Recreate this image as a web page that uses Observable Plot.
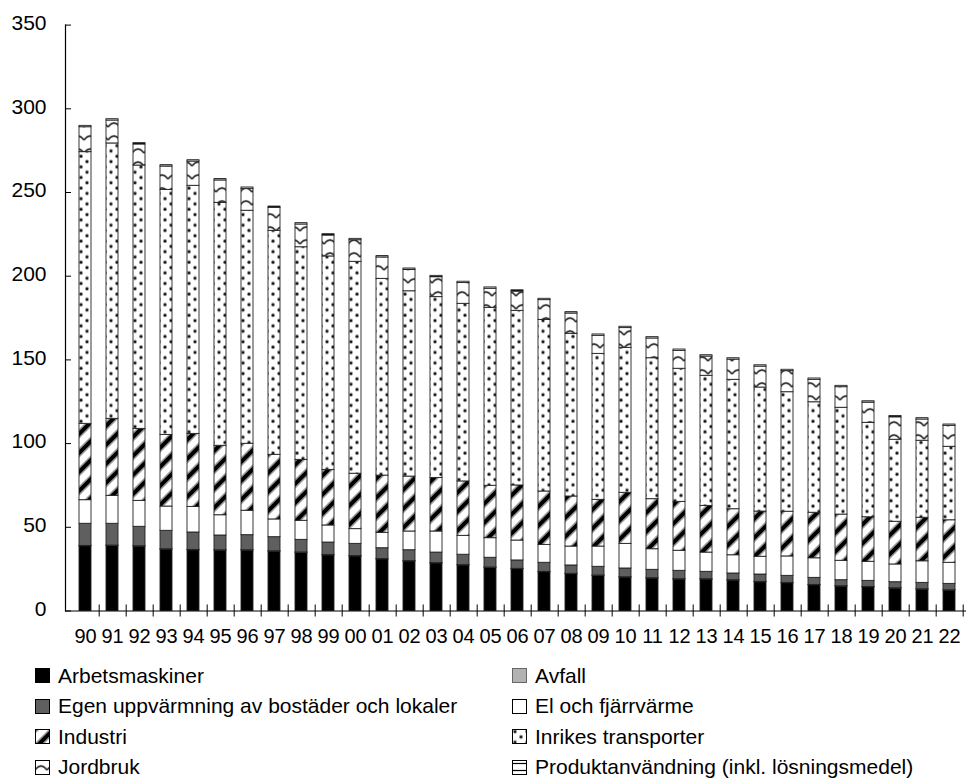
<!DOCTYPE html>
<html>
<head>
<meta charset="utf-8">
<script src="https://cdn.jsdelivr.net/npm/d3@7"></script>
<script src="https://cdn.jsdelivr.net/npm/@observablehq/plot@0.6"></script>
<style>
  html, body { margin: 0; padding: 0; background: #fff; }
  body { width: 966px; height: 780px; position: relative; font-family: "Liberation Sans", Arial, sans-serif; }
  #chart { position: absolute; left: 0; top: 0; }
  .leg { position: absolute; display: flex; align-items: center; font-size: 21px; color: #000; white-space: nowrap; }
  .leg svg { margin-right: 8px; }
</style>
</head>
<body>
<svg width="0" height="0" style="position:absolute">
  <defs>
    <pattern id="pInd" patternUnits="userSpaceOnUse" width="19" height="19">
      <rect width="19" height="19" fill="#fff"/>
      <path d="M-3,3 L3,-3 M0,19 L19,0 M16,22 L22,16" stroke="#999" stroke-width="7"/>
      <path d="M-3,3 L3,-3 M0,19 L19,0 M16,22 L22,16" stroke="#000" stroke-width="4"/>
    </pattern>
    <pattern id="pInr" patternUnits="userSpaceOnUse" width="12" height="10.6">
      <rect width="12" height="10.6" fill="#fff"/>
      <circle cx="3" cy="2.6" r="2" fill="#999"/><circle cx="3" cy="2.6" r="1.2" fill="#111"/>
      <circle cx="9" cy="7.9" r="2" fill="#999"/><circle cx="9" cy="7.9" r="1.2" fill="#111"/>
    </pattern>
    <pattern id="pJor" patternUnits="userSpaceOnUse" width="12" height="13">
      <rect width="12" height="13" fill="#fff"/>
      <path d="M0,10 Q6,2 12,10" fill="none" stroke="#aaa" stroke-width="2.6"/>
      <path d="M0,10 Q6,2 12,10" fill="none" stroke="#333" stroke-width="1.3"/>
    </pattern>
    <pattern id="pPro" patternUnits="userSpaceOnUse" width="7" height="7">
      <rect width="7" height="7" fill="#fff"/>
      <path d="M0,3.5 H7" stroke="#000" stroke-width="1.2"/>
    </pattern>
  </defs>
</svg>
<div id="chart"></div>
<div id="legend"></div>
<script>
// Year tick labels (1990–2022)
const years = ["90","91","92","93","94","95","96","97","98","99","00","01","02","03","04","05","06","07","08","09","10","11","12","13","14","15","16","17","18","19","20","21","22"];

const sectors = [
  "Arbetsmaskiner",
  "Avfall",
  "Egen uppvärmning av bostäder och lokaler",
  "El och fjärrvärme",
  "Industri",
  "Inrikes transporter",
  "Jordbruk",
  "Produktanvändning (inkl. lösningsmedel)"
];

const arbetsmaskiner = [38.7,38.9,38.5,36.7,36.3,36.1,36.1,35.5,34.8,33.2,32.6,30.8,29.6,28.4,27.2,25.8,25.0,23.2,22.0,21.0,20.0,19.4,18.8,18.8,18.2,17.2,16.6,15.4,14.6,14.2,13.4,12.8,12.2];
const avfall = [0.2,0.2,0.2,0.2,0.2,0.2,0.2,0.2,0.2,0.2,0.2,0.2,0.2,0.2,0.2,0.2,0.2,0.2,0.2,0.2,0.2,0.2,0.2,0.2,0.2,0.2,0.2,0.2,0.2,0.2,0.2,0.2,0.2];
const egenUppvarmning = [13.2,13.0,11.6,11.0,10.4,8.8,9.0,8.4,7.5,7.5,7.3,6.5,6.5,6.3,6.2,5.8,5.0,5.4,5.0,5.2,5.2,5.0,5.0,4.4,4.0,4.4,4.2,4.2,3.6,3.6,3.6,3.8,3.8];
const elFjarrvarme = [14.1,16.7,15.5,14.5,15.3,12.1,14.6,10.6,11.4,10.2,8.8,9.2,11.2,12.6,11.3,11.7,11.9,10.7,11.3,12.1,14.7,12.3,12.0,11.5,10.9,10.6,11.6,11.7,11.6,11.4,10.6,12.9,12.6];
const industri = [45.6,46.0,43.0,42.8,43.6,41.5,40.0,38.6,36.4,33.2,33.1,34.2,32.8,32.0,32.5,31.3,32.9,31.9,29.9,27.9,30.5,29.9,29.2,27.9,27.5,27.0,26.7,27.2,27.6,26.6,25.5,26.0,25.4];
const inrikesTransporter = [162.3,164.5,157.3,146.4,148.2,145.1,139.2,133.8,127.0,127.5,126.6,117.5,110.7,108.0,106.1,106.3,104.3,102.5,97.2,87.2,86.6,84.2,79.5,77.7,77.3,74.1,71.4,66.0,63.8,56.4,49.0,46.0,43.9];
const jordbruk = [14.9,13.7,12.6,13.9,14.5,13.4,13.1,13.7,13.6,12.5,12.9,12.8,12.8,11.9,12.4,11.4,11.5,11.8,12.1,10.8,11.8,11.8,10.7,11.5,12.1,12.5,12.6,13.4,12.3,12.1,13.4,12.7,12.5];
const produktanvandning = [0.8,0.8,0.8,0.8,0.8,0.8,0.8,0.8,0.8,0.8,0.8,0.8,0.8,0.8,0.8,0.8,0.8,0.8,0.8,0.8,0.8,0.8,0.8,0.8,0.8,0.8,0.8,0.8,0.8,0.8,0.8,0.8,0.8];

const yTicks = [0,50,100,150,200,250,300,350];

const seriesValues = [arbetsmaskiner, avfall, egenUppvarmning, elFjarrvarme, industri, inrikesTransporter, jordbruk, produktanvandning];
const fills = ["#000000", "#b2b2b2", "#5f5f5f", "#ffffff", "url(#pInd)", "url(#pInr)", "url(#pJor)", "url(#pPro)"];

const data = [];
seriesValues.forEach((vals, i) => vals.forEach((v, j) => data.push({year: years[j], sector: sectors[i], value: v})));

const W = 966, H = 650;
const xLeft = 65, xRight = 968;
const step = (xRight - xLeft) / years.length;

const chart = Plot.plot({
  width: W,
  height: H,
  marginLeft: 65,
  marginRight: 0,
  marginTop: 24.6,
  marginBottom: 39.5,
  style: {fontFamily: '"Liberation Sans", Arial, sans-serif', fontSize: "20px", color: "#000", background: "#fff", overflow: "visible"},
  x: {domain: years, range: [xLeft, xRight], paddingInner: 0.56, paddingOuter: 0.28, label: null},
  y: {domain: [0, 350], label: null},
  color: {type: "ordinal", domain: sectors, range: fills},
  marks: [
    Plot.barY(data, {x: "year", y: "value", fill: "sector", stroke: "#222", strokeWidth: 0.9}),
    Plot.ruleY([0], {stroke: "#000", strokeWidth: 1.2}),
    Plot.frame({anchor: "left", stroke: "#000", strokeWidth: 1.2}),
    Plot.ruleX(years, {x: d => d, dx: step / 2, y1: -3.6, y2: 3.6, stroke: "#000", strokeWidth: 1}),
    Plot.axisY({ticks: yTicks, tickSize: 6, dx: 6, text: null, stroke: "#000"}),
    Plot.axisY({ticks: yTicks, tickSize: 0, tickPadding: 19, dy: -2, fontSize: 21, tickFormat: d => String(d)}),
    Plot.axisX({tickSize: 0, tickPadding: 18, fontSize: 20})
  ]
});
document.getElementById("chart").appendChild(chart);

// Legend (two columns, row-major)
const legend = document.getElementById("legend");
const colX = [35, 512];
const rowTop = [668.5, 699, 729.5, 760];
sectors.forEach((s, i) => {
  const col = i % 2, row = Math.floor(i / 2);
  const div = document.createElement("div");
  div.className = "leg";
  div.style.left = colX[col] + "px";
  div.style.top = (rowTop[row] - 5) + "px";
  const stroke = i === 1 ? "#666" : "#000";
  div.innerHTML = `<svg width="15" height="15"><rect x="0.5" y="0.5" width="14" height="14" fill="${fills[i]}" stroke="${stroke}" stroke-width="1"/></svg><span>${s}</span>`;
  legend.appendChild(div);
});
</script>
</body>
</html>
